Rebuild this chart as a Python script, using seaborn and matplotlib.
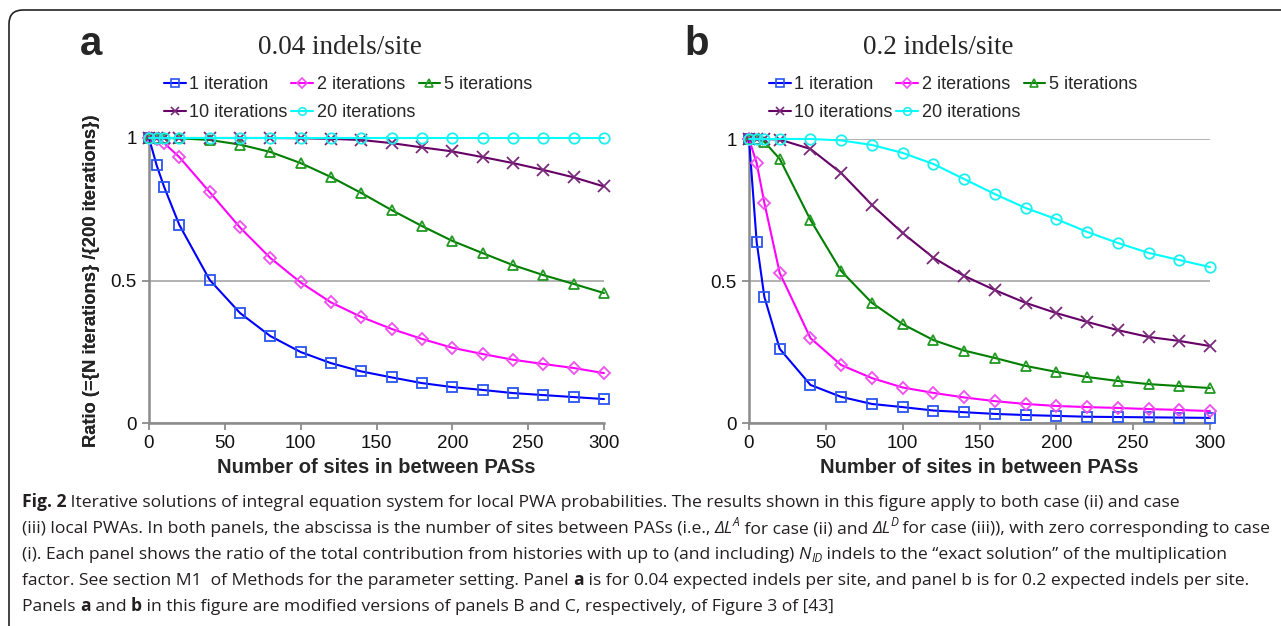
import numpy as np
import pandas as pd
import matplotlib
matplotlib.use("Agg")
import matplotlib.pyplot as plt
import seaborn as sns
from matplotlib import font_manager as fm
from matplotlib.patches import FancyBboxPatch
from matplotlib.transforms import IdentityTransform

# ---------------- data ----------------
sites = [0, 5, 10, 20, 40, 60, 80, 100, 120, 140, 160, 180, 200, 220, 240, 260, 280, 300]
series_names = ["1 iteration", "2 iterations", "5 iterations", "10 iterations", "20 iterations"]

# panel a : 0.04 indels/site
a_iter1 = [1.0, 0.905, 0.828, 0.695, 0.502, 0.386, 0.305, 0.249, 0.21, 0.181, 0.16, 0.14, 0.126, 0.116, 0.105, 0.098, 0.091, 0.084]
a_iter2 = [1.0, 0.997, 0.982, 0.933, 0.81, 0.686, 0.579, 0.493, 0.423, 0.372, 0.33, 0.295, 0.264, 0.242, 0.222, 0.207, 0.193, 0.175]
a_iter5 = [1.0, 1.0, 1.0, 0.999, 0.993, 0.977, 0.951, 0.912, 0.863, 0.807, 0.747, 0.691, 0.639, 0.596, 0.554, 0.519, 0.488, 0.456]
a_iter10 = [1.0, 1.0, 1.0, 1.0, 1.0, 1.0, 1.0, 0.999, 0.997, 0.993, 0.982, 0.967, 0.953, 0.933, 0.912, 0.888, 0.862, 0.83]
a_iter20 = [1.0, 1.0, 1.0, 1.0, 1.0, 1.0, 1.0, 1.0, 1.0, 1.0, 1.0, 1.0, 1.0, 1.0, 1.0, 1.0, 1.0, 1.0]

# panel b : 0.2 indels/site
b_iter1 = [1.0, 0.637, 0.444, 0.261, 0.134, 0.092, 0.067, 0.056, 0.044, 0.038, 0.032, 0.028, 0.025, 0.022, 0.021, 0.02, 0.019, 0.018]
b_iter2 = [1.0, 0.915, 0.775, 0.528, 0.299, 0.204, 0.158, 0.125, 0.106, 0.09, 0.077, 0.067, 0.06, 0.056, 0.053, 0.049, 0.046, 0.042]
b_iter5 = [1.0, 0.999, 0.99, 0.93, 0.715, 0.535, 0.423, 0.348, 0.292, 0.255, 0.229, 0.201, 0.18, 0.162, 0.148, 0.137, 0.13, 0.123]
b_iter10 = [1.0, 1.0, 1.0, 0.998, 0.965, 0.88, 0.768, 0.669, 0.582, 0.518, 0.468, 0.423, 0.387, 0.356, 0.327, 0.303, 0.289, 0.271]
b_iter20 = [1.0, 1.0, 1.0, 1.0, 1.0, 0.995, 0.979, 0.951, 0.912, 0.859, 0.806, 0.757, 0.718, 0.673, 0.634, 0.599, 0.574, 0.549]

panel_titles = ["0.04 indels/site", "0.2 indels/site"]
panel_letters = ["a", "b"]
x_ticks = [0, 50, 100, 150, 200, 250, 300]
y_ticks = [0, 0.5, 1]
y_tick_labels = ["0", "0.5", "1"]
x_label = "Number of sites in between PASs"
y_label = "Ratio (={N iterations} /{200 iterations})"

# ---------------- style ----------------
line_colors = ["#0000ff", "#ff00ff", "#007f00", "#660066", "#00ffff"]
marker_colors = ["#2a55f0", "#f050f0", "#229922", "#7a2a7a", "#20eeee"]
# seaborn cannot mix filled and line-art markers, so 'X' is swapped for 'x' after plotting
markers = {"1 iteration": "s", "2 iterations": "D", "5 iterations": "^",
           "10 iterations": "X", "20 iterations": "o"}
final_markers = ["s", "D", "^", "x", "o"]
marker_sizes = [7.5, 6.2, 7.5, 8, 7.5]

sns.set_style("white")
plt.rcParams["font.family"] = ["Liberation Sans", "DejaVu Sans"]

W, H = 1281, 626
fig = plt.figure(figsize=(W / 100, H / 100), dpi=100)

def fx(px):
    return px / W

def fy(py):
    return 1 - py / H

axes_px = [(149, 604, 138, 423), (749, 1210, 139, 423)]
legend_px = [164, 769]
title_x = [340, 938]
letter_x = [91, 697]

panels = [
    [a_iter1, a_iter2, a_iter5, a_iter10, a_iter20],
    [b_iter1, b_iter2, b_iter5, b_iter10, b_iter20],
]

for p, (l, r, t, b) in enumerate(axes_px):
    ax = fig.add_axes([fx(l), fy(b), fx(r - l), (b - t) / H])
    rows = []
    for name, vals in zip(series_names, panels[p]):
        for s, v in zip(sites, vals):
            rows.append({"sites": s, "ratio": v, "series": name})
    df = pd.DataFrame(rows)
    sns.lineplot(data=df, x="sites", y="ratio", hue="series", style="series",
                 hue_order=series_names, style_order=series_names,
                 palette=line_colors, markers=markers, dashes=False,
                 linewidth=1.5, errorbar=None, legend=False, ax=ax, clip_on=False)
    for i, ln in enumerate(ax.lines):
        ln.set_marker(final_markers[i])
        ln.set_markeredgecolor(marker_colors[i])
        ln.set_markerfacecolor("none")
        ln.set_markeredgewidth(1.3)
        ln.set_markersize(marker_sizes[i])
        ln.set_zorder(3 + i)
    ax.set_xlim(0, 300)
    ax.set_ylim(0, 1)
    ax.set_xticks(x_ticks)
    ax.set_yticks(y_ticks)
    ax.set_yticklabels(y_tick_labels)
    ax.tick_params(axis="both", direction="out", length=5, width=1.3, color="#8c8c8c",
                   labelsize=13.5, labelcolor="#111111", pad=4, left=True, bottom=True)
    for side in ["top", "right"]:
        ax.spines[side].set_visible(False)
    for side in ["left", "bottom"]:
        ax.spines[side].set_color("#8c8c8c")
        ax.spines[side].set_linewidth(1.8)
    ax.yaxis.grid(True, color="#a6a6a6", linewidth=1.2)
    ax.xaxis.grid(False)
    ax.set_axisbelow(True)
    ax.set_xlabel(x_label, fontsize=14.5, fontweight="bold")
    ax.set_ylabel(y_label, fontsize=13.2, fontweight="bold")
    ax.xaxis.set_label_coords(0.5, -(458 - b) / (b - t))
    ax.yaxis.set_label_coords((100 - l) / (r - l), 0.5)

    handles = ax.lines
    order = [0, 3, 1, 4, 2]
    leg = ax.legend([handles[k] for k in order], [series_names[k] for k in order],
                    ncol=3, loc="upper left", frameon=False, fontsize=13,
                    bbox_to_anchor=((legend_px[p] - l) / (r - l), 1 + (t - 76) / (b - t)),
                    borderaxespad=0, borderpad=0, handlelength=1.2, handletextpad=0.2,
                    columnspacing=0.2, labelspacing=0.6)
    for h in leg.legend_handles:
        h.set_markersize(5.5)
        h.set_markeredgewidth(1.2)

    fig.text(fx(title_x[p]), fy(47), panel_titles[p], ha="center", va="center",
             fontsize=19.5, family=["Liberation Serif", "DejaVu Serif"])
    fig.text(fx(letter_x[p]), fy(44), panel_letters[p], ha="center", va="center",
             fontsize=29, fontweight="bold")

# ---------------- border ----------------
box = FancyBboxPatch((9, -60), 1400, H - 10 + 60, boxstyle="round,pad=0,rounding_size=14",
                     transform=IdentityTransform(), facecolor="none", edgecolor="#222222",
                     linewidth=1.2, zorder=0)
fig.add_artist(box)

# ---------------- caption ----------------
def has_font(name):
    try:
        fm.findfont(fm.FontProperties(family=name), fallback_to_default=False)
        return True
    except Exception:
        return False

cap_family = None
for cand in ["Liberation Sans Narrow", "Open Sans", "Noto Sans", "Liberation Sans"]:
    if has_font(cand):
        cap_family = cand
        break
cap_fam = [cap_family, "DejaVu Sans"]

N, B, I = "normal", "bold", "italic"
caption_lines = [
    [("Fig. 2", B, N, 0), (" Iterative solutions of integral equation system for local PWA probabilities. The results shown in this figure apply to both case (ii) and case", N, N, 0)],
    [("(iii) local PWAs. In both panels, the abscissa is the number of sites between PASs (i.e., ", N, N, 0),
     ("ΔL", N, I, 0), ("A", N, I, 1), (" for case (ii) and ", N, N, 0), ("ΔL", N, I, 0), ("D", N, I, 1),
     (" for case (iii)), with zero corresponding to case", N, N, 0)],
    [("(i). Each panel shows the ratio of the total contribution from histories with up to (and including) ", N, N, 0),
     ("N", N, I, 0), ("ID", N, I, -1), (" indels to the \u201cexact solution\u201d of the multiplication", N, N, 0)],
    [("factor. See section M1  of Methods for the parameter setting. Panel ", N, N, 0), ("a", B, N, 0),
     (" is for 0.04 expected indels per site, and panel b is for 0.2 expected indels per site.", N, N, 0)],
    [("Panels ", N, N, 0), ("a", B, N, 0), (" and ", N, N, 0), ("b", B, N, 0),
     (" in this figure are modified versions of panels B and C, respectively, of Figure 3 of [43]", N, N, 0)],
]
cap_x0 = 22
max_end = 1272
baselines = [507, 533, 559, 585, 611]
renderer = fig.canvas.get_renderer()

def seg_width(text, size, weight, style):
    t1 = fig.text(0, 0, text + "|", fontsize=size, fontweight=weight, fontstyle=style, family=cap_fam)
    t2 = fig.text(0, 0, "|", fontsize=size, fontweight=weight, fontstyle=style, family=cap_fam)
    w = t1.get_window_extent(renderer).width - t2.get_window_extent(renderer).width
    t1.remove()
    t2.remove()
    return w

def line_width(segs, size):
    tot = 0
    for text, wt, st, sh in segs:
        tot += seg_width(text, size * (0.68 if sh else 1), wt, st)
    return tot

base = 10.0
size = min(base * (max_end - cap_x0) / line_width(segs, base) for segs in caption_lines)

for segs, yb in zip(caption_lines, baselines):
    x = cap_x0
    for text, wt, st, sh in segs:
        fs = size * (0.68 if sh else 1)
        dy = 0
        if sh > 0:
            dy = size * 0.42 * 100 / 72
        elif sh < 0:
            dy = -size * 0.18 * 100 / 72
        fig.text(fx(x), fy(yb - dy), text, fontsize=fs, fontweight=wt, fontstyle=st,
                 family=cap_fam, ha="left", va="baseline", color="#231f20")
        x += seg_width(text, fs, wt, st)

fig.savefig("out.png", dpi=100)
